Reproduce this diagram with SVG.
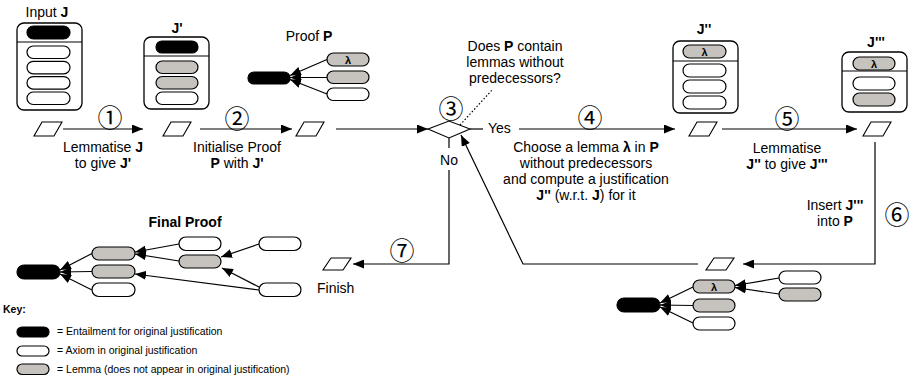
<svg xmlns="http://www.w3.org/2000/svg" width="910" height="381" viewBox="0 0 910 381">
<style>
text{font-family:"Liberation Sans",Arial,sans-serif;font-size:14px;fill:#000}
.b{font-weight:bold}
.m{text-anchor:middle}
.num{font-family:"Noto Sans CJK SC","Noto Sans CJK JP",sans-serif;font-size:25px;text-anchor:middle;fill:#000}
.key{font-size:10.5px}
.box{fill:#fff;stroke:#000;stroke-width:1.3}
.div{stroke:#000;stroke-width:1.1}
.blk{fill:#000;stroke:#000;stroke-width:1.2}
.wht{fill:#fff;stroke:#000;stroke-width:1.2}
.gry{fill:#c6c2bd;stroke:#000;stroke-width:1.2}
.par{fill:#fff;stroke:#000;stroke-width:1.1}
.ln{fill:none;stroke:#000;stroke-width:1.2}
.arr{fill:none;stroke:#000;stroke-width:1.2;marker-end:url(#ah)}
.dot{fill:none;stroke:#000;stroke-width:1.2;stroke-dasharray:1.5 2}
.lam{font-size:11px;font-weight:bold;text-anchor:middle}
</style>
<defs>
<marker id="ah" markerUnits="userSpaceOnUse" markerWidth="12" markerHeight="9" refX="11" refY="4.5" orient="auto">
<path d="M0,0 L11,4.5 L0,9 Z" fill="#000"/>
</marker>
</defs>

<g id="inputJ">
<text class="m" x="47" y="17">Input <tspan class="b">J</tspan></text>
<rect class="box" x="17" y="23" width="65" height="87" rx="7"/>
<line class="div" x1="17" y1="42" x2="82" y2="42"/>
<rect class="blk" x="27" y="26" width="43" height="13" rx="6.5"/>
<rect class="wht" x="27" y="46" width="43" height="12.5" rx="6.2"/>
<rect class="wht" x="27" y="61.3" width="43" height="12.5" rx="6.2"/>
<rect class="wht" x="27" y="76.6" width="43" height="12.5" rx="6.2"/>
<rect class="wht" x="27" y="92" width="43" height="12.5" rx="6.2"/>
<polygon class="par" points="42,122 62,122 54,136 34,136"/>
</g>

<g id="Jprime">
<text class="m b" x="177" y="33">J'</text>
<rect class="box" x="144" y="37" width="65" height="72" rx="7"/>
<line class="div" x1="144" y1="56" x2="209" y2="56"/>
<rect class="blk" x="156" y="41" width="42" height="12" rx="6"/>
<rect class="gry" x="156" y="61" width="42" height="12.5" rx="6.2"/>
<rect class="gry" x="156" y="76.5" width="42" height="12.5" rx="6.2"/>
<rect class="wht" x="156" y="92" width="42" height="12.5" rx="6.2"/>
<polygon class="par" points="171,122 191,122 183,136 163,136"/>
</g>

<g id="proofP">
<text class="m" x="309" y="41">Proof <tspan class="b">P</tspan></text>
<rect class="gry" x="327" y="53" width="42" height="13" rx="6.5"/>
<text class="lam" x="348" y="63.5">λ</text>
<rect class="gry" x="327" y="71" width="42" height="12.5" rx="6.2"/>
<rect class="wht" x="327" y="88" width="42" height="12.5" rx="6.2"/>
<path class="arr" d="M327,59.5 L290,75.5"/>
<path class="arr" d="M327,77.5 L290,77.5"/>
<path class="arr" d="M327,94 L290,79.5"/>
<rect class="blk" x="248" y="72" width="42" height="12" rx="6"/>
<polygon class="par" points="304,122 324,122 316,136 296,136"/>
</g>

<g id="decision">
<polygon class="par" points="428,129 449,121 470,129 449,138"/>
<text class="num" x="451" y="118">③</text>
<text class="m" x="515" y="51">Does <tspan class="b">P</tspan> contain</text>
<text class="m" x="515" y="67">lemmas without</text>
<text class="m" x="515" y="83">predecessors?</text>
<path class="dot" d="M460,125 L493,89"/>
<text x="488" y="133">Yes</text>
<text class="m" x="449" y="165">No</text>
</g>

<g id="Jdouble">
<text class="m b" x="704" y="34">J''</text>
<rect class="box" x="673" y="41" width="65" height="72" rx="7"/>
<line class="div" x1="673" y1="61" x2="738" y2="61"/>
<rect class="gry" x="683" y="45" width="43" height="13" rx="6.5"/>
<text class="lam" x="704.5" y="55.5">λ</text>
<rect class="wht" x="683" y="64" width="43" height="13" rx="6.5"/>
<rect class="wht" x="683" y="80" width="43" height="13" rx="6.5"/>
<rect class="wht" x="683" y="96" width="43" height="13" rx="6.5"/>
<polygon class="par" points="697,122 717,122 709,136 689,136"/>
</g>

<g id="Jtriple">
<text class="m b" x="876" y="47">J'''</text>
<rect class="box" x="842" y="52" width="65" height="60" rx="7"/>
<line class="div" x1="842" y1="71" x2="907" y2="71"/>
<rect class="gry" x="853" y="57" width="42" height="13" rx="6.5"/>
<text class="lam" x="874" y="67.5">λ</text>
<rect class="wht" x="853" y="77" width="42" height="13" rx="6.5"/>
<rect class="gry" x="853" y="93" width="42" height="13" rx="6.5"/>
<polygon class="par" points="871,122 891,122 883,136 863,136"/>
</g>

<g id="insertP">
<polygon class="par" points="714,258 734,258 726,270 706,270"/>
<rect class="gry" x="693" y="280" width="42" height="13" rx="6.5"/>
<text class="lam" x="714" y="290.5">λ</text>
<rect class="gry" x="693" y="299" width="42" height="13" rx="6.5"/>
<rect class="wht" x="693" y="317" width="42" height="13" rx="6.5"/>
<rect class="wht" x="779" y="271" width="42" height="13" rx="6.5"/>
<rect class="gry" x="779" y="288" width="42" height="13" rx="6.5"/>
<path class="arr" d="M779,278 L735,285.5"/>
<path class="arr" d="M779,294 L735,287.5"/>
<path class="arr" d="M693,287 L660,303"/>
<path class="arr" d="M693,305.5 L660,305"/>
<path class="arr" d="M693,323 L660,307"/>
<rect class="blk" x="617" y="298" width="43" height="14" rx="7"/>
</g>

<g id="finish">
<polygon class="par" points="331,258 351,258 343,270 323,270"/>
<text x="317" y="293">Finish</text>
</g>

<g id="finalProof">
<text class="m b" x="185" y="227">Final Proof</text>
<rect class="gry" x="92" y="247" width="43" height="13" rx="6.5"/>
<rect class="gry" x="92" y="265" width="43" height="13" rx="6.5"/>
<rect class="wht" x="92" y="283" width="43" height="13.5" rx="6.7"/>
<rect class="wht" x="179" y="237" width="42" height="13.5" rx="6.7"/>
<rect class="gry" x="179" y="255" width="42" height="13" rx="6.5"/>
<rect class="wht" x="259" y="237" width="42" height="13.5" rx="6.7"/>
<rect class="wht" x="259" y="283" width="42" height="13.5" rx="6.7"/>
<path class="arr" d="M92,253.5 L60,270"/>
<path class="arr" d="M92,271.5 L60,272"/>
<path class="arr" d="M92,290 L60,274"/>
<path class="arr" d="M179,244 L135,252"/>
<path class="arr" d="M179,261 L135,254"/>
<path class="arr" d="M259,244 L221,257"/>
<path class="arr" d="M259,287 L222,268"/>
<path class="arr" d="M259,290 L135,274"/>
<rect class="blk" x="17" y="265" width="43" height="14" rx="7"/>
</g>

<g id="key">
<text class="b key" x="3" y="313">Key:</text>
<rect class="blk" x="17" y="327" width="32" height="10" rx="5"/>
<text class="key" x="57" y="335">= Entailment for original justification</text>
<rect class="wht" x="17" y="346" width="32" height="10" rx="5"/>
<text class="key" x="57" y="354">= Axiom in original justification</text>
<rect class="gry" x="17" y="364" width="32" height="10.5" rx="5.2"/>
<text class="key" x="57" y="372.5">= Lemma (does not appear in original justification)</text>
</g>

<g id="connectors">
<path class="arr" d="M63,129 L143,129"/>
<text class="num" x="110" y="127">①</text>
<text class="m" x="103" y="152">Lemmatise <tspan class="b">J</tspan></text>
<text class="m" x="103" y="168">to give <tspan class="b">J'</tspan></text>

<path class="arr" d="M200,129 L292,129"/>
<text class="num" x="237" y="128">②</text>
<text class="m" x="237" y="152">Initialise Proof</text>
<text class="m" x="237" y="168"><tspan class="b">P</tspan> with <tspan class="b">J'</tspan></text>

<path class="arr" d="M336,129 L428,129"/>

<path class="ln" d="M470,129 L483,129"/>
<path class="arr" d="M519,129 L675,129"/>
<text class="num" x="590" y="127">④</text>
<text class="m" x="586" y="152">Choose a lemma <tspan class="b">λ</tspan> in <tspan class="b">P</tspan></text>
<text class="m" x="586" y="168">without predecessors</text>
<text class="m" x="586" y="184">and compute a justification</text>
<text class="m" x="586" y="200"><tspan class="b">J''</tspan> (w.r.t. <tspan class="b">J</tspan>) for it</text>

<path class="arr" d="M722,129 L857,129"/>
<text class="num" x="787" y="128">⑤</text>
<text class="m" x="787" y="153">Lemmatise</text>
<text class="m" x="787" y="169"><tspan class="b">J''</tspan> to give <tspan class="b">J'''</tspan></text>

<path class="arr" d="M875,142 L875,264 L743,264"/>
<text class="num" x="897" y="224">⑥</text>
<text class="m" x="835" y="210">Insert <tspan class="b">J'''</tspan></text>
<text class="m" x="835" y="226">into <tspan class="b">P</tspan></text>

<path class="arr" d="M698,264 L523,264 L461,135"/>

<path class="ln" d="M449,138 L449,148"/>
<path class="arr" d="M449,170 L449,264 L353,264"/>
<text class="num" x="402" y="260">⑦</text>
</g>
</svg>
